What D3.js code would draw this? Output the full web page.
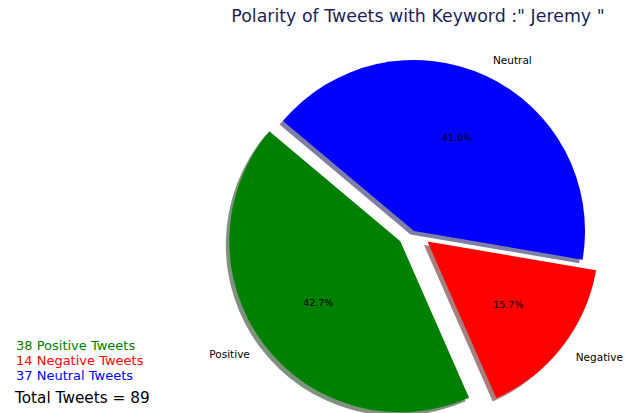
<!DOCTYPE html>
<html>
<head>
<meta charset="utf-8">
<script src="https://cdn.jsdelivr.net/npm/d3@7"></script>
<style>
  html, body { margin: 0; padding: 0; background: #fff; }
  svg { display: block; font-family: "DejaVu Sans", sans-serif; }
</style>
</head>
<body>
<svg id="chart" width="627" height="413"></svg>
<script>
// Tweet polarity counts for the keyword
const categories = ["Positive", "Negative", "Neutral"];
const counts = [38, 14, 37];
const sliceColors = ["green", "red", "blue"];
const explode = [0.1, 0.1, 0];
const keyword = "Jeremy";

const W = 627, H = 413;
const svg = d3.select("#chart");
const cx = 414, cy = 231, R = 171;
const startDeg = 140;               // counter-clockwise from 3 o'clock
const toRad = d => d * Math.PI / 180;

const total = d3.sum(counts);
const data = categories.map((c, i) => ({ name: c, value: counts[i], color: sliceColors[i], explode: explode[i] }));

// d3 angles run clockwise from 12 o'clock; lay slices out counter-clockwise
const pie = d3.pie().sort(null).value(d => d.value)
  .startAngle(toRad(90 - startDeg))
  .endAngle(toRad(90 - startDeg - 360));
const arcs = pie(data);
const arc = d3.arc().innerRadius(0).outerRadius(R);

const mid = a => (a.startAngle + a.endAngle) / 2;
const offset = a => {
  const m = mid(a), d = a.data.explode * R;
  return [Math.sin(m) * d, -Math.cos(m) * d];
};

const g = svg.append("g").attr("transform", `translate(${cx},${cy})`);

// drop shadows under the wedges
const shadowColor = c => {
  const k = d3.rgb(c);
  return d3.rgb(k.r * 0.3, k.g * 0.3, k.b * 0.3).toString();
};
g.selectAll("path.shadow").data(arcs).join("path")
  .attr("class", "shadow")
  .attr("d", arc)
  .attr("transform", a => { const [ox, oy] = offset(a); return `translate(${ox - 3.5},${oy + 3.5})`; })
  .attr("fill", a => shadowColor(a.data.color))
  .attr("fill-opacity", 0.5);

// wedges
g.selectAll("path.wedge").data(arcs).join("path")
  .attr("class", "wedge")
  .attr("d", arc)
  .attr("transform", a => { const [ox, oy] = offset(a); return `translate(${ox},${oy})`; })
  .attr("fill", a => a.data.color);

// category labels outside the wedges
g.selectAll("text.label").data(arcs).join("text")
  .attr("class", "label")
  .attr("x", a => offset(a)[0] + Math.sin(mid(a)) * R * 1.1)
  .attr("y", a => offset(a)[1] - Math.cos(mid(a)) * R * 1.1)
  .attr("text-anchor", a => Math.sin(mid(a)) > 0 ? "start" : "end")
  .attr("dominant-baseline", "central")
  .attr("font-size", 10.5)
  .attr("fill", "#000")
  .text(a => a.data.name);

// percentage labels inside the wedges
const pct = d3.format(".1%");
g.selectAll("text.pct").data(arcs).join("text")
  .attr("class", "pct")
  .attr("x", a => offset(a)[0] + Math.sin(mid(a)) * R * 0.6)
  .attr("y", a => offset(a)[1] - Math.cos(mid(a)) * R * 0.6)
  .attr("text-anchor", "middle")
  .attr("dominant-baseline", "central")
  .attr("font-size", 9.5)
  .attr("fill", "#000")
  .text(a => pct(a.data.value / total));

// title
svg.append("text")
  .attr("x", 418).attr("y", 22)
  .attr("text-anchor", "middle")
  .attr("font-size", 17.4)
  .attr("fill", "#1e1e58")
  .text(`Polarity of Tweets with Keyword :" ${keyword} "`);

// counts summary at the lower left
const legendY = [350, 365, 380];
svg.selectAll("text.count").data(data).join("text")
  .attr("class", "count")
  .attr("x", 16)
  .attr("y", (d, i) => legendY[i])
  .attr("font-size", 13)
  .attr("fill", d => d.color)
  .text(d => `${d.value} ${d.name} Tweets`);

svg.append("text")
  .attr("x", 15).attr("y", 403)
  .attr("font-size", 15.3)
  .attr("fill", "#000")
  .text(`Total Tweets = ${total}`);
</script>
</body>
</html>
